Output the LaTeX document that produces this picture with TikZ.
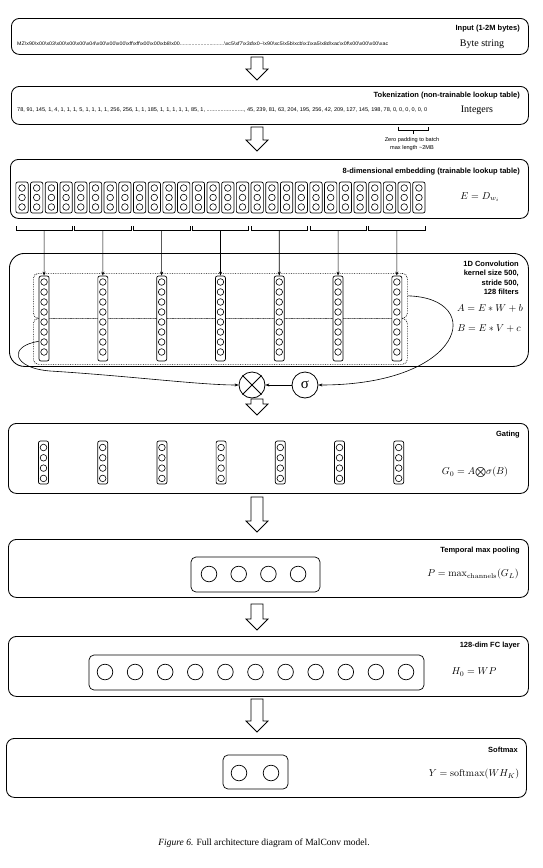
\documentclass[tikz,border=0pt]{standalone}
\usepackage[no-math]{fontspec}
\setmainfont{Liberation Serif}
\setsansfont{Liberation Sans}
\usepackage{amsmath}
\usepackage{graphicx}
\usetikzlibrary{arrows.meta}
\newcommand\bx{\textbackslash x}
\newcommand\blkarrow[2]{\draw[blk] (251,#1) -- (263,#1) -- (263,#2-11) -- (268,#2-11) -- (257,#2) -- (246,#2-11) -- (251,#2-11) -- cycle;}
\begin{document}
\begin{tikzpicture}[x=1pt,y=-1pt,
  panel/.style={draw, line width=0.85pt, rounded corners=8pt, inner sep=0pt, anchor=north west},
  ibox/.style={draw, line width=0.7pt, rounded corners=2pt},
  cir/.style={draw, line width=0.6pt},
  lab/.style={font=\sffamily\bfseries\fontsize{7.5}{9.3}\selectfont, anchor=east, inner sep=0pt},
  mth/.style={font=\fontsize{10}{12}\selectfont, inner sep=0pt},
  serif/.style={font=\fontsize{10}{12}\selectfont, inner sep=0pt},
  blk/.style={draw, line width=0.8pt, fill=white, line join=miter},
  conn/.style={line width=0.6pt, -{Stealth[length=4pt,width=3pt]}},
  dotrect/.style={draw, densely dotted, line width=0.7pt, rounded corners=5pt, inner sep=0pt, anchor=north west},
  op/.style={draw, circle, line width=0.8pt, minimum size=26pt, inner sep=0pt}
]
\useasboundingbox (0,0) rectangle (542,868);

% ---------- Input ----------
\node[panel, minimum width=517pt, minimum height=36pt] (pin) at (11,18) {};
\node[lab] (tin) at (520,29) {Input (1-2M bytes)};
\node[serif] (bs) at (482,44) {Byte string};
\node[anchor=west, inner sep=0pt] (bytes) at (17,44) {\resizebox{371pt}{3.6pt}{\sffamily MZ\bx90\bx00\bx03\bx00\bx00\bx00\bx04\bx00\bx00\bx00\bx ff\bx ff\bx00\bx00\bx b8\bx00..............................\bx c5\bx f7\bx3d\bx0\textasciitilde\bx90\bx c5\bx5b\bx cb\bx1\bx a5\bx8d\bx ac\bx0f\bx00\bx00\bx00\bx ac}};
\blkarrow{57}{80}

% ---------- Tokenization ----------
\node[panel, minimum width=517pt, minimum height=38pt] (ptok) at (11,86) {};
\node[lab] (ttok) at (520,96) {Tokenization (non-trainable lookup table)};
\node[serif] (ints) at (477,110) {Integers};
\node[anchor=west, inner sep=0pt] (nums) at (17,110) {\resizebox{410pt}{3.8pt}{\sffamily 78, 91, 145, 1, 4, 1, 1, 1, 5, 1, 1, 1, 1, 256, 256, 1, 1, 185, 1, 1, 1, 1, 1, 85, 1, ........................, 45, 239, 81, 63, 204, 195, 256, 42, 209, 127, 145, 198, 78, 0, 0, 0, 0, 0, 0}};
\draw[line width=0.6pt] (398,126.5) -- (398,130.5) -- (428,130.5) -- (428,126.5);
\coordinate (zpb) at (413,130.5);
\node[font=\sffamily\fontsize{5.6}{8.8}\selectfont, align=center, inner sep=0pt] (zp) at (412,144) {Zero padding to batch\\max length \textasciitilde 2MB};
\draw[line width=0.6pt] (zpb) -- (zpb |- 0,133.5);
\blkarrow{127}{151}

% ---------- Embedding ----------
\node[panel, minimum width=518pt, minimum height=59pt] (pemb) at (10,159) {};
\node[lab] (temb) at (520,172) {8-dimensional embedding (trainable lookup table)};
\node[mth] (femb) at (480,197) {$E = D_{w_i}$};
\foreach \i in {0,...,27}{
  \pgfmathsetmacro\cx{22+14.7*\i}
  \draw[ibox] (\cx-6.15,182) rectangle (\cx+6.15,213);
  \foreach \yy in {188,197.5,207} \draw[cir] (\cx,\yy) circle (3.3pt);
}
\foreach \k in {0,...,6}{
  \pgfmathsetmacro\lx{22+14.7*4*\k-6.15}
  \pgfmathsetmacro\rx{22+14.7*(4*\k+3)+6.15}
  \pgfmathsetmacro\mx{22+14.7*(4*\k+1.5)}
  \draw[line width=0.6pt] (\lx,226) -- (\lx,230) -- (\rx,230) -- (\rx,226);
  \coordinate (br\k) at (\mx,230);
}

% ---------- Convolution ----------
\node[panel, rounded corners=15pt, minimum width=519pt, minimum height=113pt] (pconv) at (9,253) {};
\node[dotrect, minimum width=374pt, minimum height=45pt] (dA) at (33,273) {};
\node[dotrect, minimum width=374pt, minimum height=46pt] (dB) at (33,318) {};
\foreach \k in {0,...,6}{
  \pgfmathsetmacro\cx{44.05+58.8*\k}
  \node[draw, line width=0.7pt, rounded corners=2pt, minimum width=10pt, minimum height=85pt, inner sep=0pt, fill=white] (cb\k) at (\cx,318.5) {};
  \foreach \j in {0,...,7} \draw[cir] (\cx,282+10*\j) circle (3.3pt);
  \draw[conn] (br\k) -- (cb\k.north);
}
\node[lab, align=right, anchor=north east] (tconv) at (519,261) {1D Convolution\\kernel size 500,\\stride 500,\\128 filters};
\node[mth] (fA) at (490,308) {$A = E * W + b$};
\node[mth] (fB) at (489,328) {$B = E * V + c$};

\node[op] (ot) at (252,385) {};
\draw[line width=0.8pt] (ot.north east) -- (ot.south west) (ot.north west) -- (ot.south east);
\node[op, font=\fontsize{15}{15}\selectfont] (sg) at (305,385) {σ};
\draw[conn] (sg.west) -- (ot.east);
\draw[conn] (dA.east) .. controls (487,298) and (465,385) .. (sg.east);
\draw[conn] (cb0.west |- dB.west) .. controls (8,346) and (12,368) .. (50,371) .. controls (130,376) and (200,385) .. (ot.west);
\blkarrow{399}{415}

% ---------- Gating ----------
\node[panel, minimum width=520pt, minimum height=70pt] (pgate) at (8,423) {};
\node[lab] (tgate) at (520,435) {Gating};
\foreach \k in {0,...,6}{
  \pgfmathsetmacro\cx{43.5+59.2*\k}
  \node[draw, line width=0.7pt, rounded corners=2pt, minimum width=10pt, minimum height=43pt, inner sep=0pt] (gb\k) at (\cx,462.5) {};
  \foreach \j in {0,...,3} \draw[cir] (\cx,447.5+10.3*\j) circle (3.3pt);
}
\node[mth] (fgate) at (475,472) {$G_0 = A{\textstyle\bigotimes}\sigma(B)$};
\blkarrow{497}{532}

% ---------- Pooling ----------
\node[panel, minimum width=520pt, minimum height=58pt] (ppool) at (8,539) {};
\node[lab] (tpool) at (520,551) {Temporal max pooling};
\node[draw, line width=0.7pt, rounded corners=5pt, minimum width=129pt, minimum height=35pt, inner sep=0pt] (pbox) at (255.5,574.5) {};
\foreach \j in {0,...,3} \draw[cir, line width=0.7pt] (209+29.7*\j,574) circle (7.8pt);
\node[mth] (fpool) at (473,574) {$P = \max_{\mathrm{channels}}(G_L)$};
\blkarrow{604}{630}

% ---------- FC ----------
\node[panel, minimum width=520pt, minimum height=60pt] (pfc) at (8,636) {};
\node[lab] (tfc) at (520,646) {128-dim FC layer};
\node[draw, line width=0.7pt, rounded corners=5pt, minimum width=335pt, minimum height=35pt, inner sep=0pt] (fbox) at (256.5,672.5) {};
\foreach \j in {0,...,10} \draw[cir, line width=0.7pt] (105+30.1*\j,672) circle (7.8pt);
\node[mth] (ffc) at (474,672) {$H_0 = WP$};
\blkarrow{699}{732}

% ---------- Softmax ----------
\node[panel, minimum width=520pt, minimum height=59pt] (psoft) at (6,738) {};
\node[lab] (tsoft) at (518,750) {Softmax};
\node[draw, line width=0.7pt, rounded corners=5pt, minimum width=65pt, minimum height=34pt, inner sep=0pt] (sbox) at (255.5,772) {};
\foreach \j in {0,1} \draw[cir, line width=0.7pt] (239+32*\j,773) circle (7.8pt);
\node[mth] (fsoft) at (474,774) {$Y = \mathrm{softmax}(WH_K)$};

% ---------- Caption ----------
\node[font=\fontsize{9.5}{11}\selectfont, inner sep=0pt] (cap) at (264,843) {\textit{Figure 6.} Full architecture diagram of MalConv model.};
\end{tikzpicture}
\end{document}
